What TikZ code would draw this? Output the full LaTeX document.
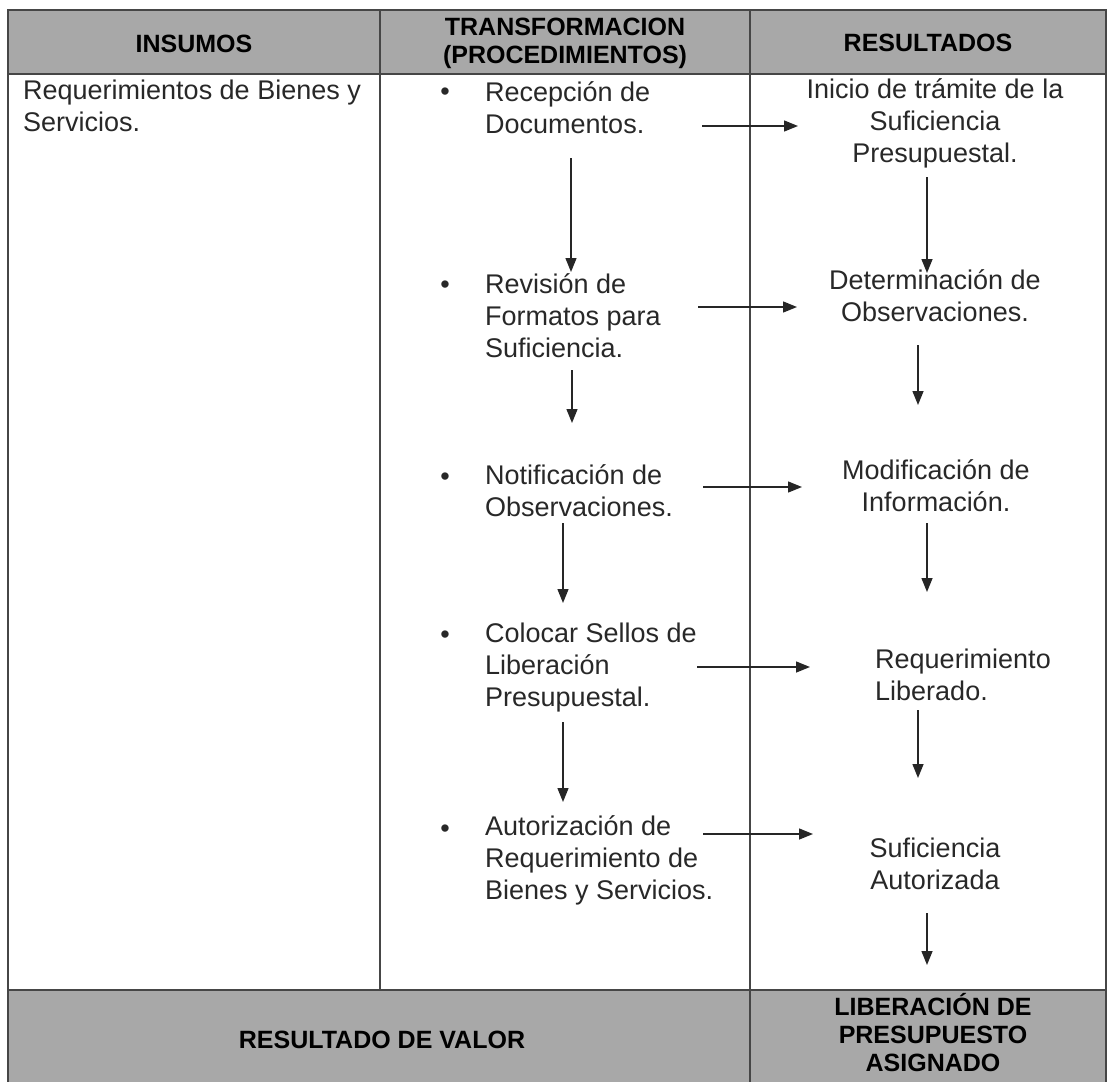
\documentclass[tikz,border=0pt]{standalone}
\usepackage{fontspec}
\setmainfont{Liberation Sans}
\usetikzlibrary{arrows.meta}
\definecolor{hdrgray}{RGB}{168,168,168}
\definecolor{rulegray}{RGB}{70,70,70}
\definecolor{txt}{RGB}{40,40,40}
\begin{document}
\begin{tikzpicture}[x=1pt,y=-1pt,
  body/.style={font=\fontsize{27}{32}\selectfont, text=txt, inner sep=0pt},
  lbody/.style={body, align=left, anchor=base west},
  cbody/.style={body, align=center, anchor=base},
  bul/.style={body, anchor=base},
  hdr/.style={font=\fontsize{25}{28}\selectfont\bfseries, text=black, align=center, anchor=base, inner sep=0pt},
  flow/.style={line width=1.4pt, draw=black!85, -{Triangle[length=14pt,width=11pt]}},
  rule/.style={line width=1.3pt, draw=rulegray}]
\useasboundingbox (0,0) rectangle (1109,1082);
\fill[white] (0,0) rectangle (1109,1082);
% header and footer bands
\fill[hdrgray] (8,10) rectangle (1106,74);
\fill[hdrgray] (8,990) rectangle (1106,1082);
% table rules
\draw[rule] (8,1082) -- (8,10) -- (1106,10) -- (1106,1082);
\draw[rule] (8,74) -- (1106,74);
\draw[rule] (8,990) -- (1106,990);
\draw[rule] (380,10) -- (380,990);
\draw[rule] (750,10) -- (750,1082);
% headers (node base = baseline of last line)
\node[hdr] (hIns) at (194,52) {INSUMOS};
\node[hdr] (hTra) at (565,63) {TRANSFORMACION\\(PROCEDIMIENTOS)};
\node[hdr] (hRes) at (928,51) {RESULTADOS};
% footer
\node[hdr] (fVal) at (382,1048) {RESULTADO DE VALOR};
\node[hdr] (fLib) at (933,1071) {LIBERACIÓN DE\\PRESUPUESTO\\ASIGNADO};
% insumos
\node[lbody] (ins) at (23,131) {Requerimientos de Bienes y\\Servicios.};
% procedimientos
\node[bul] (b1) at (445,100) {•};
\node[lbody] (m1) at (485,133) {Recepción de\\Documentos.};
\node[bul] (b2) at (445,293) {•};
\node[lbody] (m2) at (485,357) {Revisión de\\Formatos para\\Suficiencia.};
\node[bul] (b3) at (445,485) {•};
\node[lbody] (m3) at (485,516) {Notificación de\\Observaciones.};
\node[bul] (b4) at (445,643) {•};
\node[lbody] (m4) at (485,706) {Colocar Sellos de\\Liberación\\Presupuestal.};
\node[bul] (b5) at (445,837) {•};
\node[lbody] (m5) at (485,899) {Autorización de\\Requerimiento de\\Bienes y Servicios.};
% resultados
\node[cbody] (r1) at (935,162) {Inicio de trámite de la\\Suficiencia\\Presupuestal.};
\node[cbody] (r2) at (935,321) {Determinación de\\Observaciones.};
\node[cbody] (r3) at (936,511) {Modificación de\\Información.};
\node[lbody] (r4) at (875,700) {Requerimiento\\Liberado.};
\node[cbody] (r5) at (935,889) {Suficiencia\\Autorizada};
% arrow end points
\coordinate (h1a) at (702,126); \coordinate (h1b) at (798,126);
\coordinate (h2a) at (698,307); \coordinate (h2b) at (797,307);
\coordinate (h3a) at (703,487); \coordinate (h3b) at (802,487);
\coordinate (h4a) at (697,667); \coordinate (h4b) at (810,667);
\coordinate (h5a) at (703,834); \coordinate (h5b) at (813,834);
\coordinate (v1a) at (571,158); \coordinate (v1b) at (571,272);
\coordinate (v2a) at (572,370); \coordinate (v2b) at (572,423);
\coordinate (v3a) at (563,523); \coordinate (v3b) at (563,603);
\coordinate (v4a) at (563,722); \coordinate (v4b) at (563,802);
\coordinate (w1a) at (927,177); \coordinate (w1b) at (927,273);
\coordinate (w2a) at (918,345); \coordinate (w2b) at (918,405);
\coordinate (w3a) at (927,523); \coordinate (w3b) at (927,592);
\coordinate (w4a) at (918,710); \coordinate (w4b) at (918,778);
\coordinate (w5a) at (927,913); \coordinate (w5b) at (927,965);
\foreach \p in {h1,h2,h3,h4,h5,v1,v2,v3,v4,w1,w2,w3,w4,w5}
  \draw[flow] (\p a) -- (\p b);
\end{tikzpicture}
\end{document}
